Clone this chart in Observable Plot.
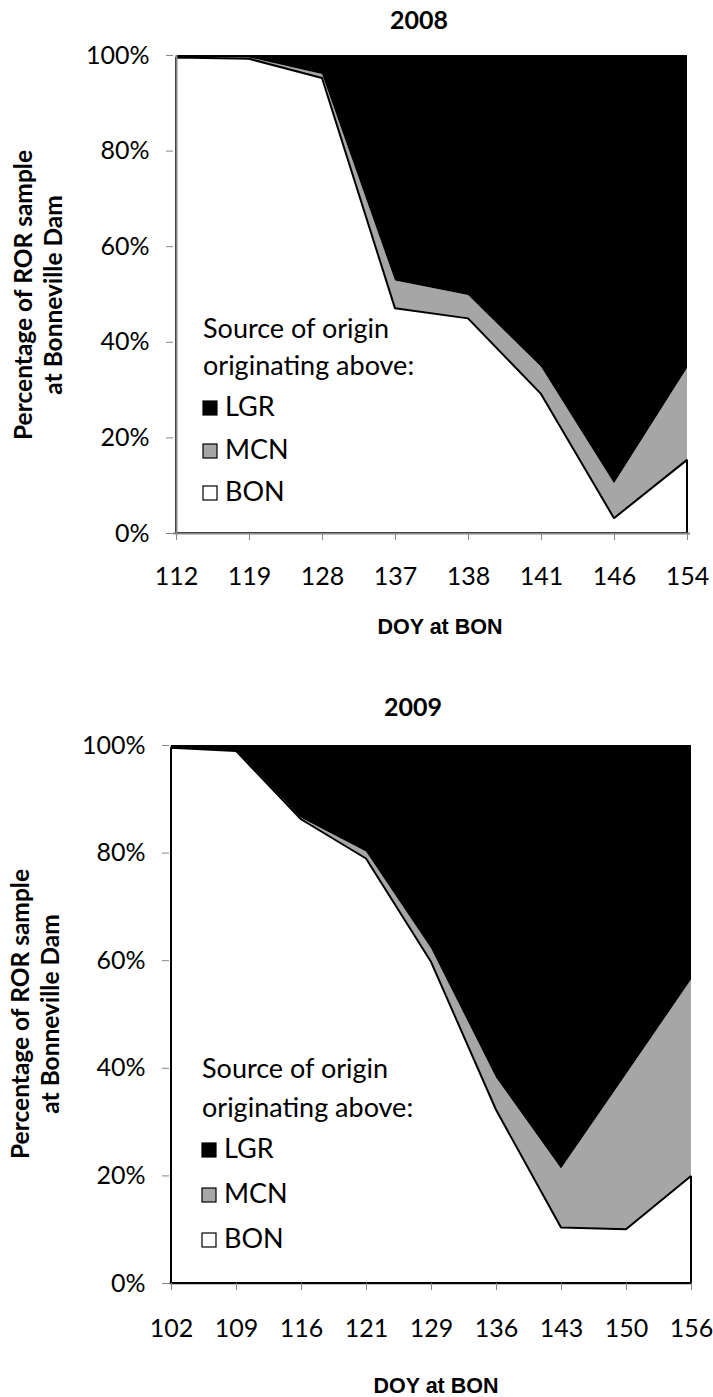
<!DOCTYPE html>
<html><head><meta charset="utf-8">
<script src="https://cdn.jsdelivr.net/npm/d3@7"></script>
<script src="https://cdn.jsdelivr.net/npm/@observablehq/plot@0.6"></script>
<style>
html,body{margin:0;padding:0;background:#fff;}
#page{position:relative;width:713px;height:1397px;overflow:hidden;background:#fff;}
.panel{position:absolute;left:0;}
#overlay{position:absolute;left:0;top:0;pointer-events:none;}
</style></head><body><div id="page"></div>
<script>
// ---- data ----
const sources = ["LGR", "MCN", "BON"];
const sourceColors = ["#000000", "#a6a6a6", "#ffffff"];
const yTicks = [0, 20, 40, 60, 80, 100];

const doy2008 = [112, 119, 128, 137, 138, 141, 146, 154];
const bon2008 = [99.5, 99.2, 95.2, 47.0, 44.9, 29.1, 3.1, 15.3];
const mcn2008 = [0.1, 0.3, 0.8, 5.8, 4.9, 5.7, 7.3, 19.2];
const lgr2008 = [0.4, 0.5, 4.0, 47.2, 50.2, 65.2, 89.6, 65.5];

const doy2009 = [102, 109, 116, 121, 129, 136, 143, 150, 156];
const bon2009 = [99.5, 98.9, 86.2, 78.9, 59.7, 32.2, 10.3, 10.0, 19.9];
const mcn2009 = [0.0, 0.1, 0.3, 1.3, 2.5, 6.0, 11.0, 28.8, 36.5];
const lgr2009 = [0.5, 1.0, 13.5, 19.8, 37.8, 61.8, 78.7, 61.2, 43.6];

const yearTitles = ["2008", "2009"];
const xTitle = "DOY at BON";
const yTitleLines = ["Percentage of ROR sample", "at Bonneville Dam"];
const legendHeader = ["Source of origin", "originating above:"];

// ---- layout ----
const W = 713;
const panels = [
  {year: yearTitles[0], doy: doy2008, bon: bon2008, mcn: mcn2008, lgr: lgr2008,
   top: 0, height: 600, mTop: 55, mBottom: 67, mLeft: 173, mRight: 23, axisOnTop: true,
   xPad: 27, titleX: 419, titleY: 29, xTitleX: 440, xTitleY: 633.5, yTitleX: [23, 53], yTitleY: 295,
   legX: 203, legBase: [338, 375, 416, 459, 501]},
  {year: yearTitles[1], doy: doy2009, bon: bon2009, mcn: mcn2009, lgr: lgr2009,
   top: 690, height: 640, mTop: 55, mBottom: 47, mLeft: 169, mRight: 21, axisOnTop: false,
   xPad: 29, titleX: 413, titleY: 716, xTitleX: 436, xTitleY: 1392.5, yTitleX: [20, 50], yTitleY: 1014,
   legX: 202, legBase: [1078, 1117, 1158, 1203, 1248]}
];

const page = document.getElementById("page");

panels.forEach(p => {
  const labels = p.doy.map(String);
  const rows = [];
  p.doy.forEach((d, i) => {
    rows.push({doy: String(d), source: "BON", value: p.bon[i]});
    rows.push({doy: String(d), source: "MCN", value: p.mcn[i]});
    rows.push({doy: String(d), source: "LGR", value: p.lgr[i]});
  });
  const bonRows = rows.filter(r => r.source === "BON");
  const axisLines = [
    Plot.ruleX([labels[0]], {stroke: "#868686", strokeWidth: 2}),
    Plot.ruleY([0], {stroke: "#868686", strokeWidth: 2})
  ];
  const dataMarks = [
    Plot.areaY(rows, {x: "doy", y: "value", z: "source", fill: "source",
      order: ["BON", "MCN", "LGR"], curve: "linear"}),
    Plot.areaY(bonRows, {x: "doy", y: "value", fill: "white", stroke: "black",
      strokeWidth: 2, strokeLinejoin: "miter"})
  ];
  const chart = Plot.plot({
    width: W,
    height: p.height,
    marginTop: p.mTop,
    marginBottom: p.mBottom,
    marginLeft: p.mLeft,
    marginRight: p.mRight,
    style: {fontFamily: "Lato", fontSize: "25px", background: "white", overflow: "visible"},
    x: {type: "point", domain: labels, padding: 0},
    y: {domain: [0, 100]},
    color: {domain: sources, range: sourceColors},
    marks: [
      ...(p.axisOnTop ? [] : axisLines),
      ...dataMarks,
      ...(p.axisOnTop ? axisLines : []),
      Plot.axisX({tickSize: 7, tickPadding: p.xPad, stroke: "#868686", fill: "#000",
        fontSize: 25, fontFamily: "Lato", label: null}),
      Plot.axisY({ticks: yTicks, tickSize: 7, tickPadding: 17, tickFormat: d => d + "%",
        stroke: "#868686", fill: "#000", fontSize: 25, fontFamily: "Lato", label: null})
    ]
  });
  chart.classList.add("panel");
  chart.style.top = p.top + "px";
  page.appendChild(chart);
});

// ---- overlay text: titles, axis titles, legends ----
const svg = d3.select(page).append("svg").attr("id", "overlay")
  .attr("width", W).attr("height", 1397);

panels.forEach(p => {
  svg.append("text").text(p.year)
    .attr("x", p.titleX).attr("y", p.titleY).attr("text-anchor", "middle")
    .attr("font-family", "Lato").attr("font-weight", "bold").attr("font-size", 25);
  svg.append("text").text(xTitle)
    .attr("x", p.xTitleX).attr("y", p.xTitleY).attr("text-anchor", "middle")
    .attr("font-family", "Liberation Sans").attr("font-weight", "bold").attr("font-size", 21.5);
  yTitleLines.forEach((t, i) => {
    svg.append("text").text(t)
      .attr("transform", `translate(${p.yTitleX[i]},${p.yTitleY}) rotate(-90)`)
      .attr("dy", "0.35em").attr("text-anchor", "middle")
      .attr("font-family", "Lato").attr("font-weight", "bold").attr("font-size", 24.5);
  });
  legendHeader.forEach((t, i) => {
    svg.append("text").text(t).attr("x", p.legX).attr("y", p.legBase[i])
      .attr("font-family", "Lato").attr("font-size", 27);
  });
  sources.forEach((s, i) => {
    const base = p.legBase[2 + i];
    svg.append("rect").attr("x", p.legX).attr("y", base - 15).attr("width", 14).attr("height", 14)
      .attr("fill", sourceColors[i]).attr("stroke", "#000").attr("stroke-width", 1.2);
    svg.append("text").text(s).attr("x", p.legX + 22).attr("y", base)
      .attr("font-family", "Lato").attr("font-size", 27);
  });
});
</script></body></html>
